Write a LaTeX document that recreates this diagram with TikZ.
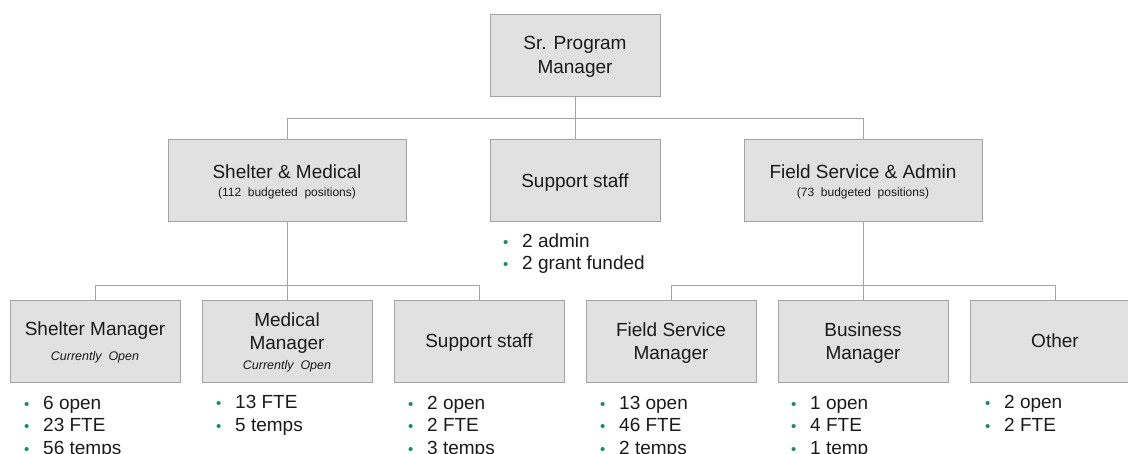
\documentclass[tikz,border=0pt]{standalone}
\usepackage{fontspec}
\setmainfont{Liberation Sans}
\definecolor{boxfill}{HTML}{E1E1E1}
\definecolor{boxline}{HTML}{A3A3A3}
\definecolor{conline}{HTML}{A3A3A3}
\definecolor{txt}{HTML}{1A1A1A}
\definecolor{bulgreen}{HTML}{1E8C5A}
\newcommand\bitem[1]{\makebox[19pt][l]{\hspace*{0pt}\textcolor{bulgreen}{\fontsize{15}{15}\selectfont •}}#1}
\newcommand\subt[1]{{\fontsize{12}{14}\selectfont #1}}
\newcommand\subi[1]{{\fontsize{12.5}{14}\selectfont\itshape #1}}
\begin{document}
\begin{tikzpicture}[x=1pt,y=-1pt,
  box/.style={draw=boxline, fill=boxfill, line width=0.9pt, minimum width=170pt, minimum height=82pt,
    align=center, inner sep=0pt, text depth=0pt, text=txt, font=\fontsize{19}{23.5}\selectfont},
  wide/.style={minimum width=238pt},
  conn/.style={draw=conline, line width=0.9pt},
  blist/.style={anchor=base west, align=left, inner sep=0pt, text=txt, font=\fontsize{19}{22.5}\selectfont}]
\useasboundingbox (0,0) rectangle (1128,454);
% connectors
\coordinate (j1) at (575,118);
\coordinate (j2) at (287,285);
\coordinate (j3) at (863,285);
% boxes
\node[box] (top) at (575,55) {Sr. Program\\Manager};
\node[box, wide] (sm) at (287,180.5) {Shelter \& Medical\\[-5pt]\subt{(112 \ budgeted \ positions)}};
\node[box] (sup) at (575,180.5) {Support staff};
\node[box, wide] (fsa) at (863,180.5) {Field Service \& Admin\\[-5pt]\subt{(73 \ budgeted \ positions)}};
\node[box] (shm) at (95,341) {Shelter Manager\\[1pt]\subi{Currently \ Open}};
\node[box] (med) at (287,341) {Medical\\Manager\\[-4pt]\subi{Currently \ Open}};
\node[box] (sup2) at (479,341) {Support staff};
\node[box] (fsm) at (671,341) {Field Service\\Manager};
\node[box] (bm) at (863,341) {Business\\Manager};
\node[box] (oth) at (1055,341) {Other};
\path[conn] (top) -- (j1) (j1) -- (sup) (sm.north) |- (j1) (fsa.north) |- (j1);
\path[conn] (sm) -- (j2) (j2) -- (med) (shm.north) |- (j2) (sup2.north) |- (j2);
\path[conn] (fsa) -- (j3) (j3) -- (bm) (fsm.north) |- (j3) (oth.north) |- (j3);
% bullet lists (anchored at the baseline of their last line)
\node[blist] (lsup) at (503,270) {\bitem{2 admin}\\\bitem{2 grant funded}};
\node[blist] (lshm) at (24,454) {\bitem{6 open}\\\bitem{23 FTE}\\\bitem{56 temps}};
\node[blist] (lmed) at (216,431.5) {\bitem{13 FTE}\\\bitem{5 temps}};
\node[blist] (lsup2) at (408,454) {\bitem{2 open}\\\bitem{2 FTE}\\\bitem{3 temps}};
\node[blist] (lfsm) at (600,454) {\bitem{13 open}\\\bitem{46 FTE}\\\bitem{2 temps}};
\node[blist] (lbm) at (791,454) {\bitem{1 open}\\\bitem{4 FTE}\\\bitem{1 temp}};
\node[blist] (loth) at (985,431.5) {\bitem{2 open}\\\bitem{2 FTE}};
\end{tikzpicture}
\end{document}
